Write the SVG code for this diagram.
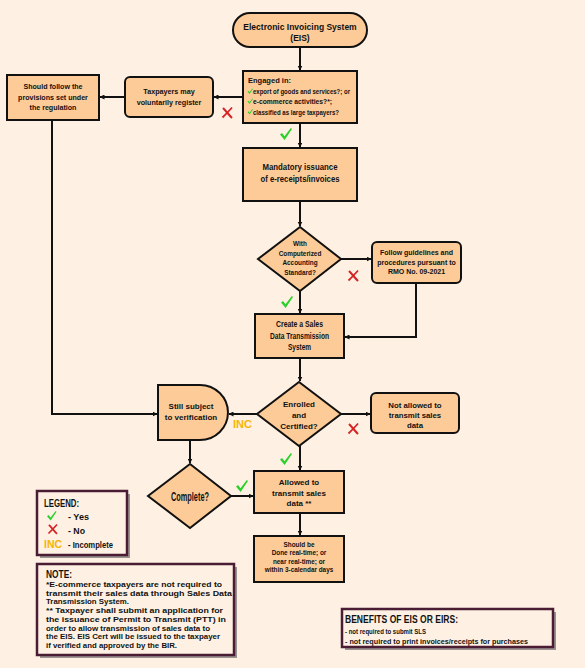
<svg xmlns="http://www.w3.org/2000/svg" width="585" height="668" viewBox="0 0 585 668">
<defs>
<style>
.n{fill:#FDCB98;stroke:#111;stroke-width:2}
.t{font-family:"Liberation Sans",Arial,sans-serif;font-weight:bold;fill:#111;text-anchor:middle}
.nr{font-family:"Liberation Sans",Arial,sans-serif;font-weight:bold;fill:#111}
.c{fill:none;stroke:#111;stroke-width:2}
.box{fill:#FEF1E4;stroke:#4B1D35;stroke-width:2.5}
.sh{fill:#9a9490}
.inc{font-family:"Liberation Sans",Arial,sans-serif;font-weight:bold;fill:#F7B500}
</style>
<marker id="ah" viewBox="0 0 10 10" refX="9" refY="5" markerWidth="5" markerHeight="5" orient="auto" markerUnits="userSpaceOnUse">
<path d="M0,0 L10,5 L0,10 Z" fill="#111"/>
</marker>
<path id="ck" d="M0,6.5 L2,5 L4.5,8.2 L10.8,0 L12,1 L4.6,12 Z" fill="#2BD12B"/>
<g id="xx"><path d="M1,1 C4,4 7,8 10,11" fill="none" stroke="#D42424" stroke-width="2"/><path d="M10,0.5 C7,4 4,7 0.5,10.5" fill="none" stroke="#D42424" stroke-width="1.8"/></g>
</defs>
<rect width="585" height="668" fill="#FEF0E2"/>

<g id="connectors">
<path class="c" d="M300,47 V70" marker-end="url(#ah)"/>
<path class="c" d="M243,97 H214" marker-end="url(#ah)"/>
<path class="c" d="M125,97 H100" marker-end="url(#ah)"/>
<path class="c" d="M52,120 V414 H157" marker-end="url(#ah)"/>
<path class="c" d="M300,123 V147" marker-end="url(#ah)"/>
<path class="c" d="M300,201 V226" marker-end="url(#ah)"/>
<path class="c" d="M341,259 H371" marker-end="url(#ah)"/>
<path class="c" d="M300,291 V313" marker-end="url(#ah)"/>
<path class="c" d="M416,283 V337 H345" marker-end="url(#ah)"/>
<path class="c" d="M300,358 V381" marker-end="url(#ah)"/>
<path class="c" d="M257,414 H229" marker-end="url(#ah)"/>
<path class="c" d="M341,414 H370" marker-end="url(#ah)"/>
<path class="c" d="M300,446 V470" marker-end="url(#ah)"/>
<path class="c" d="M190,440 V463" marker-end="url(#ah)"/>
<path class="c" d="M231,496 H253" marker-end="url(#ah)"/>
<path class="c" d="M300,513 V535" marker-end="url(#ah)"/>
</g>

<g id="eis">
<rect class="n" x="233" y="13" width="134" height="34" rx="17"/>
<text class="t" x="300" y="30" font-size="8.5">Electronic Invoicing System</text>
<text class="t" x="300" y="41" font-size="8.5">(EIS)</text>
</g>

<g id="engaged">
<rect class="n" x="243" y="71" width="114" height="52"/>
<text class="nr" x="248" y="83" font-size="7.6" textLength="43" lengthAdjust="spacingAndGlyphs">Engaged in:</text>
<use href="#ck" transform="translate(247.5,88.5) scale(0.45)"/>
<text class="nr" x="253" y="94" font-size="7.6" textLength="97" lengthAdjust="spacingAndGlyphs">export of goods and services?; or</text>
<use href="#ck" transform="translate(247.5,98.5) scale(0.45)"/>
<text class="nr" x="253" y="104" font-size="7.6" textLength="79" lengthAdjust="spacingAndGlyphs">e-commerce activities?*;</text>
<use href="#ck" transform="translate(247.5,109) scale(0.45)"/>
<text class="nr" x="253" y="115" font-size="7.6" textLength="86" lengthAdjust="spacingAndGlyphs">classified as large taxpayers?</text>
</g>

<g id="voluntary">
<rect class="n" x="125" y="77" width="88" height="40" rx="5"/>
<text class="t" x="169" y="94" font-size="7.2">Taxpayers may</text>
<text class="t" x="169" y="105" font-size="7.2">voluntarily register</text>
</g>

<g id="provisions">
<rect class="n" x="7" y="75" width="92" height="45"/>
<text class="t" x="53" y="89" font-size="7.1">Should follow the</text>
<text class="t" x="53" y="99.5" font-size="7.1">provisions set under</text>
<text class="t" x="53" y="110" font-size="7.1">the regulation</text>
</g>

<g id="mandatory">
<rect class="n" x="243" y="148" width="114" height="53"/>
<text class="t" x="300" y="170" font-size="9.5" textLength="75" lengthAdjust="spacingAndGlyphs">Mandatory issuance</text>
<text class="t" x="300" y="182" font-size="9.5" textLength="79" lengthAdjust="spacingAndGlyphs">of e-receipts/invoices</text>
</g>

<g id="cas">
<path class="n" d="M300,227 L341,259 L300,291 L258,259 Z"/>
<text class="t" x="300" y="246" font-size="6.4">With</text>
<text class="t" x="300" y="255.5" font-size="6.4">Computerized</text>
<text class="t" x="300" y="265" font-size="6.4">Accounting</text>
<text class="t" x="300" y="274.5" font-size="6.4">Standard?</text>
</g>

<g id="guidelines">
<rect class="n" x="372" y="242" width="89" height="41" rx="5"/>
<text class="t" x="416.5" y="255" font-size="7">Follow guidelines and</text>
<text class="t" x="416.5" y="264.5" font-size="7">procedures pursuant to</text>
<text class="t" x="416.5" y="274" font-size="7">RMO No. 09-2021</text>
</g>

<g id="create">
<rect class="n" x="255" y="314" width="89" height="44"/>
<text class="t" x="299.5" y="327" font-size="8.5" textLength="47" lengthAdjust="spacingAndGlyphs">Create a Sales</text>
<text class="t" x="299.5" y="338.5" font-size="8.5" textLength="59" lengthAdjust="spacingAndGlyphs">Data Transmission</text>
<text class="t" x="299.5" y="350" font-size="8.5" textLength="23" lengthAdjust="spacingAndGlyphs">System</text>
</g>

<g id="enrolled">
<path class="n" d="M299,382 L341,414 L299,446 L257,414 Z"/>
<text class="t" x="299" y="407" font-size="8">Enrolled</text>
<text class="t" x="299" y="418" font-size="8">and</text>
<text class="t" x="299" y="429" font-size="8">Certified?</text>
</g>

<g id="verification">
<path class="n" d="M158,385 H200 A28,27.5 0 0 1 200,440 H158 Z"/>
<text class="t" x="191" y="409" font-size="8">Still subject</text>
<text class="t" x="191" y="420" font-size="8">to verification</text>
</g>

<g id="notallowed">
<rect class="n" x="371" y="393" width="88" height="40" rx="5"/>
<text class="t" x="415" y="408" font-size="7.8">Not allowed to</text>
<text class="t" x="415" y="418" font-size="7.8">transmit sales</text>
<text class="t" x="415" y="428" font-size="7.8">data</text>
</g>

<g id="complete">
<path class="n" d="M190,464 L231,496 L190,528 L148,496 Z"/>
<text class="t" x="190" y="500.5" font-size="12" textLength="38" lengthAdjust="spacingAndGlyphs">Complete?</text>
</g>

<g id="allowed">
<rect class="n" x="254" y="471" width="90" height="42"/>
<text class="t" x="299" y="485" font-size="8">Allowed to</text>
<text class="t" x="299" y="495.5" font-size="8">transmit sales</text>
<text class="t" x="299" y="506" font-size="8">data **</text>
</g>

<g id="realtime">
<rect class="n" x="254" y="536" width="90" height="46"/>
<text class="t" x="299" y="546.5" font-size="6.4">Should be</text>
<text class="t" x="299" y="555" font-size="6.4">Done real-time; or</text>
<text class="t" x="299" y="563.5" font-size="6.4">near real-time; or</text>
<text class="t" x="299" y="572" font-size="6.4">within 3-calendar days</text>
</g>

<g id="marks">
<use href="#ck" transform="translate(280,128)"/>
<use href="#xx" transform="translate(222,107)"/>
<use href="#xx" transform="translate(348,270)"/>
<use href="#ck" transform="translate(281,296)"/>
<use href="#xx" transform="translate(348,423)"/>
<text class="inc" x="233" y="428" font-size="11">INC</text>
<use href="#ck" transform="translate(280,453)"/>
<use href="#ck" transform="translate(236,480)"/>
</g>

<g id="legend">
<rect class="sh" x="40" y="494" width="90" height="64"/>
<rect class="box" x="37" y="491" width="90" height="64"/>
<text class="nr" x="44" y="507" font-size="10.5" textLength="35" lengthAdjust="spacingAndGlyphs">LEGEND:</text>
<use href="#ck" transform="translate(47,511) scale(0.8)"/>
<text class="nr" x="68" y="520" font-size="8.5" textLength="21" lengthAdjust="spacingAndGlyphs">- Yes</text>
<use href="#xx" transform="translate(48,524) scale(0.9)"/>
<text class="nr" x="68" y="534" font-size="8.5" textLength="17" lengthAdjust="spacingAndGlyphs">- No</text>
<text class="inc" x="44" y="548" font-size="10.5">INC</text>
<text class="nr" x="68" y="548" font-size="8.5" textLength="45" lengthAdjust="spacingAndGlyphs">- Incomplete</text>
</g>

<g id="note">
<rect class="sh" x="40" y="567" width="197" height="91"/>
<rect class="box" x="37" y="564" width="197" height="91"/>
<text class="nr" x="46" y="578" font-size="11" textLength="26" lengthAdjust="spacingAndGlyphs">NOTE:</text>
<g font-family="Liberation Sans, Arial, sans-serif" font-weight="bold" font-size="7.4" fill="#111">
<text x="46" y="587" textLength="176" lengthAdjust="spacingAndGlyphs">*E-commerce taxpayers are not required to</text>
<text x="46" y="595.5" textLength="186" lengthAdjust="spacingAndGlyphs">transmit their sales data through Sales Data</text>
<text x="46" y="604" textLength="83" lengthAdjust="spacingAndGlyphs">Transmission System.</text>
<text x="46" y="613" textLength="177" lengthAdjust="spacingAndGlyphs">** Taxpayer shall submit an application for</text>
<text x="46" y="621.5" textLength="180" lengthAdjust="spacingAndGlyphs">the issuance of Permit to Transmit (PTT) in</text>
<text x="46" y="630.5" font-size="7" textLength="164" lengthAdjust="spacingAndGlyphs">order to allow transmission of sales data to</text>
<text x="46" y="639" font-size="7" textLength="174" lengthAdjust="spacingAndGlyphs">the EIS. EIS Cert will be issued to the taxpayer</text>
<text x="46" y="647.5" font-size="7" textLength="131" lengthAdjust="spacingAndGlyphs">if verified and approved by the BIR.</text>
</g>
</g>

<g id="benefits">
<rect class="sh" x="345" y="612" width="211" height="38"/>
<rect class="box" x="342" y="609" width="211" height="38"/>
<text class="nr" x="345" y="622.5" font-size="11" textLength="113" lengthAdjust="spacingAndGlyphs">BENEFITS OF EIS OR EIRS:</text>
<text class="nr" x="345" y="633.5" font-size="7.6" textLength="81" lengthAdjust="spacingAndGlyphs">- not required to submit SLS</text>
<text class="nr" x="345" y="644" font-size="7.6" textLength="183" lengthAdjust="spacingAndGlyphs">- not required to print invoices/receipts for purchases</text>
</g>
</svg>
